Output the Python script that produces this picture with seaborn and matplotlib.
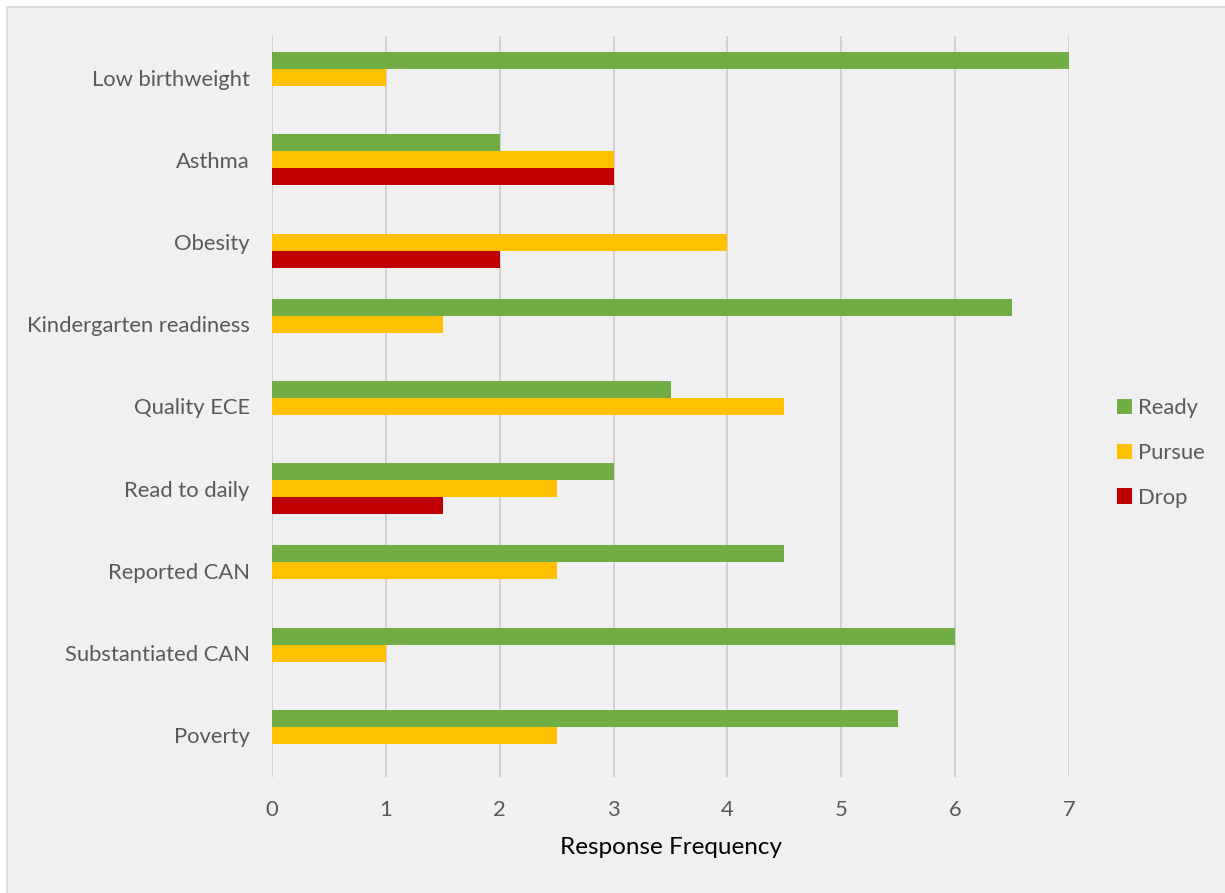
import matplotlib
matplotlib.use("Agg")
import matplotlib.pyplot as plt
import seaborn as sns
import pandas as pd
from matplotlib.patches import Rectangle, Patch

# Survey indicators and response counts per decision
indicators = ["Low birthweight", "Asthma", "Obesity", "Kindergarten readiness",
              "Quality ECE", "Read to daily", "Reported CAN",
              "Substantiated CAN", "Poverty"]
ready = [7, 2, 0, 6.5, 3.5, 3, 4.5, 6, 5.5]
pursue = [1, 3, 4, 1.5, 4.5, 2.5, 2.5, 1, 2.5]
drop = [0, 3, 2, 0, 0, 1.5, 0, 0, 0]
decisions = ["Ready", "Pursue", "Drop"]
colors = ["#70AD47", "#FFC000", "#C00000"]
x_ticks = [0, 1, 2, 3, 4, 5, 6, 7]

df = pd.DataFrame({
    "Indicator": indicators * 3,
    "Decision": ["Ready"] * len(indicators) + ["Pursue"] * len(indicators) + ["Drop"] * len(indicators),
    "Count": ready + pursue + drop,
})

sns.set_theme(style="white")
plt.rcParams["font.family"] = ["Lato", "DejaVu Sans"]

bg = "#F0F0F0"
fig = plt.figure(figsize=(12.25, 8.93), dpi=100, facecolor="white")
fig.patches.append(Rectangle((7 / 1225, -1), 2, 2 - 7 / 893, transform=fig.transFigure,
                             facecolor=bg, edgecolor="#D9D9D9", linewidth=1.2, zorder=-10))

ax = fig.add_axes([272 / 1225, 1 - 776.6 / 893, (1069 - 272) / 1225, (776.6 - 36.4) / 893])
ax.set_facecolor(bg)

sns.barplot(data=df, y="Indicator", x="Count", hue="Decision", order=indicators,
            hue_order=decisions, palette=colors, orient="h", width=0.62,
            saturation=1, ax=ax, legend=False, zorder=3, linewidth=0, edgecolor="none")

ax.set_xlim(0, 7)
ax.set_ylim(len(indicators) - 0.5, -0.5)
ax.set_xticks(x_ticks)
ax.set_xticklabels([str(t) for t in x_ticks])
ax.xaxis.grid(True, color="#C8C8C8", linewidth=1.1, zorder=0)
ax.yaxis.grid(False)
ax.set_axisbelow(True)
for s in ax.spines.values():
    s.set_visible(False)
ax.tick_params(axis="both", length=0, colors="#595959", labelsize=15.8)
ax.tick_params(axis="x", pad=17)
ax.tick_params(axis="y", pad=16)
ax.set_ylabel("")
ax.set_xlabel("Response Frequency", fontsize=17.5, color="black", labelpad=12)

handles = [Patch(facecolor=c, edgecolor="none", label=d) for d, c in zip(decisions, colors)]
fig.legend(handles=handles, loc="center left", bbox_to_anchor=(1106 / 1225, 1 - 453 / 893),
           frameon=False, fontsize=15.8, labelcolor="#595959", handlelength=0.7,
           handleheight=0.7, handletextpad=0.25, labelspacing=1.13, borderpad=0)

fig.savefig("out.png", dpi=100, facecolor="white")
